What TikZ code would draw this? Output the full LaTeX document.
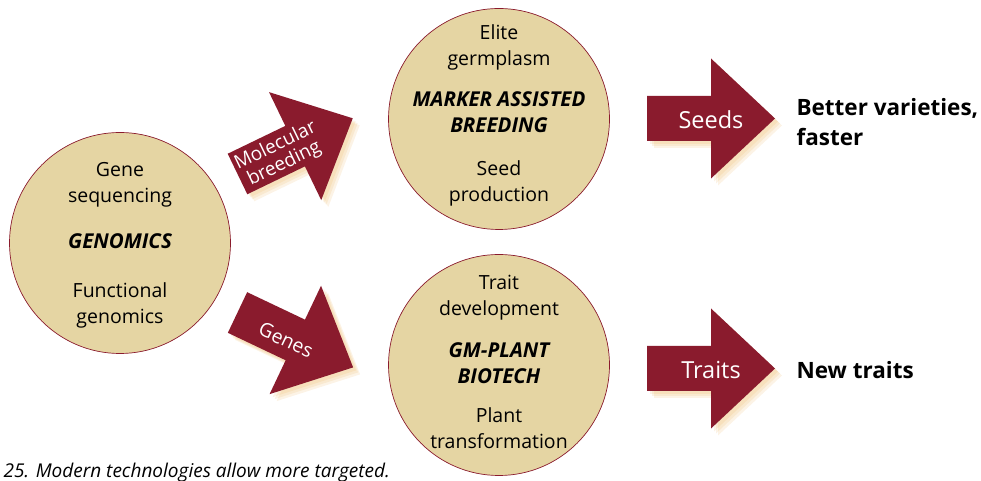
\documentclass[tikz,border=0pt]{standalone}
\usepackage{fontspec}
\setmainfont{Open Sans}
\usetikzlibrary{calc}
\definecolor{seedred}{RGB}{138,27,45}
\definecolor{wheat}{RGB}{229,213,163}
\definecolor{glow}{RGB}{232,165,60}
\newcommand\headword[1]{{\fontsize{20.5}{26}\selectfont\bfseries\itshape #1}}
% block arrow: (left middle of body)(angle)
\def\blockarrow(#1)(#2){%
  \foreach \s in {7,5,3}{\fill[glow, opacity=0.13, shift={(#1)}, xshift=\s pt, yshift=-\s pt, rotate=#2] (0,-22.5) -- (64,-22.5) -- (64,-60) -- (128,0) -- (64,60) -- (64,22.5) -- (0,22.5) -- cycle;}
  \fill[seedred, shift={(#1)}, rotate=#2] (0,-22.5) -- (64,-22.5) -- (64,-60) -- (128,0) -- (64,60) -- (64,22.5) -- (0,22.5) -- cycle;}

\begin{document}
\begin{tikzpicture}[x=1pt, y=1pt,
    bubble/.style={circle, draw=seedred, line width=0.7pt, fill=wheat, minimum size=221pt, inner sep=0pt},
    bubbletext/.style={align=center, font=\fontsize{19.5}{26}\selectfont},
    arrowtext/.style={text=white, align=center, font=\fontsize{19}{20}\selectfont},
    result/.style={anchor=west, align=left, font=\fontsize{22.5}{30}\selectfont\bfseries}]
			%%%%% START %%%%%
			\useasboundingbox (0,0) rectangle (981,481);
			
			\blockarrow(237.5,307)(25.8)
			\blockarrow(237.5,168.5)(-25.4)
			\blockarrow(647,362.5)(0)
			\blockarrow(647,112.5)(0)
			
			\node[bubble] (genomics) at (120,238) {};
			\node[bubble] (marker) at (499,362) {};
			\node[bubble] (gmplant) at (499,116) {};
			
			\node[bubbletext] (genomics-text) at (120,236) {Gene\\sequencing\\[20pt]\headword{GENOMICS}\\[23pt]Functional\\genomics};
			\node[bubbletext] (marker-text) at (499,366) {Elite\\germplasm\\[15pt]\headword{MARKER ASSISTED}\\\headword{BREEDING}\\[17pt]Seed\\production};
			\node[bubbletext] (gmplant-text) at (499,119) {Trait\\development\\[16pt]\headword{GM-PLANT}\\\headword{BIOTECH}\\[13pt]Plant\\transformation};
			
			\node[arrowtext, rotate=25.8] (breeding-label) at (280,326) {Molecular\\breeding};
			\node[arrowtext, rotate=-25.4, font=\fontsize{19.5}{20}\selectfont] (genes-label) at (286,141) {Genes};
			\node[arrowtext, font=\fontsize{23.5}{24}\selectfont] (seeds-label) at (711,361) {Seeds};
			\node[arrowtext, font=\fontsize{23.5}{24}\selectfont] (traits-label) at (711,111) {Traits};
			
			\node[result] (better) at (793,359) {Better varieties,\\faster};
			\node[result] (newtraits) at (793,111) {New traits};
			
			\node[anchor=base west, font=\fontsize{19}{20}\selectfont\itshape] (caption) at (0,3) {25. Modern technologies allow more targeted.};
			%%%%% END %%%%%
\end{tikzpicture}
\end{document}
